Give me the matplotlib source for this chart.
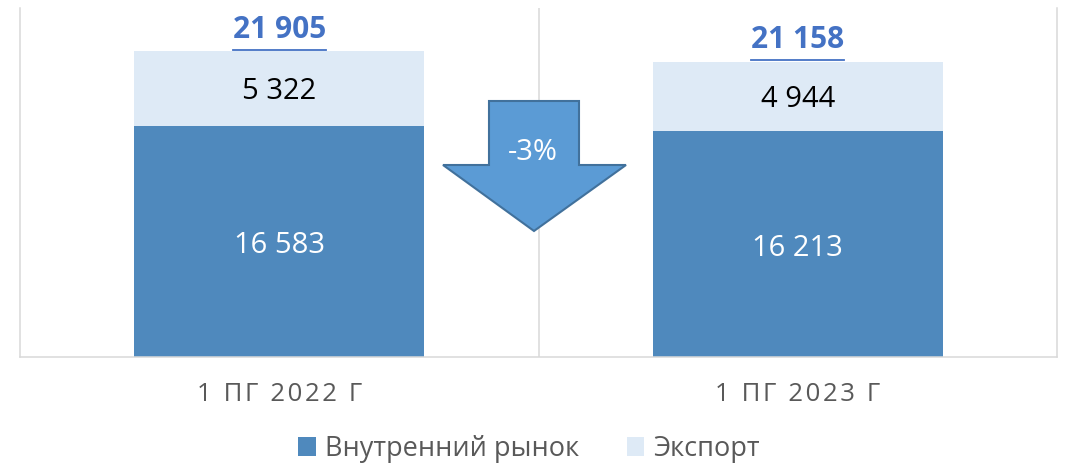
import matplotlib
matplotlib.use("Agg")
import matplotlib.pyplot as plt
from matplotlib.patches import Polygon, Patch
from matplotlib.lines import Line2D

categories = ["1 ПГ 2022 Г", "1 ПГ 2023 Г"]
domestic = [16583, 16213]
export = [5322, 4944]
totals = [21905, 21158]
change_label = "-3%"
series_names = ["Внутренний рынок", "Экспорт"]

FONT = ["Open Sans", "DejaVu Sans"]
plt.rcParams["font.family"] = FONT

C_DOM = "#4F89BD"
C_EXP = "#DEEAF6"
C_GRID = "#D9D9D9"
C_TXT = "#595959"
C_TOT = "#4472C4"

W, H = 1069, 465
fig = plt.figure(figsize=(W / 100, H / 100), dpi=100)
ax = fig.add_axes([20 / W, (H - 357.3) / H, 1037 / W, 349.3 / H])

def fmt(v):
    return f"{v:,}".replace(",", " ")

x = [0.5, 1.5]
bw = 0.56
ax.bar(x, domestic, width=bw, color=C_DOM, zorder=2)
ax.bar(x, export, width=bw, bottom=domestic, color=C_EXP, zorder=2)

ax.set_xlim(0, 2)
ax.set_ylim(0, 25000)
ax.axvline(1, color=C_GRID, lw=1.1, zorder=1)

for s in ["left", "right", "bottom"]:
    ax.spines[s].set_color(C_GRID)
    ax.spines[s].set_linewidth(1.1)
ax.spines["top"].set_visible(False)
ax.set_yticks([])

hair = "\u200a"
def spaced(t):
    return hair.join(list(t))

ax.set_xticks(x)
ax.set_xticklabels([spaced(c) for c in categories], color=C_TXT, fontsize=18.5)
ax.tick_params(axis="x", length=0, pad=18)

tot_texts = []
for xi, d, e, t in zip(x, domestic, export, totals):
    ax.annotate(fmt(d), xy=(xi, d / 2), xytext=(0, -3), textcoords="offset points",
                ha="center", va="center", color="white", fontsize=21, zorder=3)
    ax.annotate(fmt(e), xy=(xi, d + e / 2), xytext=(0, -2), textcoords="offset points",
                ha="center", va="center", color="black", fontsize=21, zorder=3)
    tt = ax.annotate(fmt(t), xy=(xi, t), xytext=(0, 9.7), textcoords="offset points",
                     ha="center", va="baseline", color=C_TOT, fontsize=21.5,
                     fontweight="bold", zorder=3)
    tot_texts.append(tt)

# down arrow shape (figure pixel coordinates, y from top)
arrow_px = [(489, 101), (579, 101), (579, 165), (626, 165), (534, 231), (443, 165), (489, 165)]
arrow = Polygon([(px / W, 1 - py / H) for px, py in arrow_px], closed=True,
                transform=fig.transFigure, facecolor="#5B9BD5", edgecolor="#41719C",
                lw=1.5, zorder=5)
fig.patches.append(arrow)
fig.text(533 / W, 1 - 152 / H, change_label, ha="center", va="center", color="white",
         fontsize=21, zorder=6)

handles = [Patch(facecolor=C_DOM, edgecolor="none"), Patch(facecolor=C_EXP, edgecolor="none")]
fs_leg = 19.5
fig.legend(handles, series_names, loc="center", bbox_to_anchor=(529 / W, 1 - 449 / H),
           ncol=2, frameon=False, fontsize=fs_leg, labelcolor=C_TXT,
           handlelength=0.66, handleheight=0.66, handletextpad=0.33, columnspacing=1.75,
           borderpad=0, borderaxespad=0)

# underline for totals
fig.canvas.draw()
r = fig.canvas.get_renderer()
for tt in tot_texts:
    bb = tt.get_window_extent(renderer=r)
    _, _, desc = r.get_text_width_height_descent(tt.get_text(), tt.get_fontproperties(), ismath=False)
    base = bb.y0 + desc
    yline = base - 5
    fig.add_artist(Line2D([bb.x0 / W, bb.x1 / W], [yline / H, yline / H],
                          transform=fig.transFigure, color=C_TOT, lw=1.3))

fig.savefig("out.png", dpi=100)
